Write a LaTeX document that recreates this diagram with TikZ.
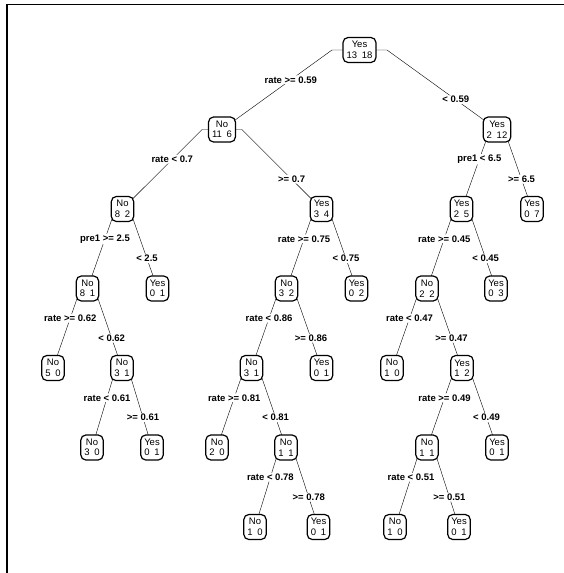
\documentclass[tikz,border=0pt]{standalone}
\usepackage{fontspec}
\setmainfont{Liberation Sans}
\usetikzlibrary{backgrounds}
\newcommand{\yn}[3]{#1\\#2\enspace#3}

\begin{document}
\begin{tikzpicture}[x=1pt,y=-1pt,
    every node/.style={draw,fill=white,rounded corners=5pt,line width=1.2pt,align=center,
      inner xsep=3.5pt,inner ysep=2pt,minimum height=25pt,font=\fontsize{9.5}{10.5}\selectfont},
    lab/.style={draw=none,fill=white,inner sep=1pt,minimum height=0pt,
      font=\fontsize{9.5}{11}\selectfont\bfseries},
    branch/.style={line width=0.8pt}]
    \useasboundingbox (0,0) rectangle (564,573);
    \draw[line width=1.4pt] (7,573) -- (7,4.3) -- (564,4.3);

    % levels at y = 50, 129.5, 209, 288.5, 368, 447.5, 527
    \node at (359.5,50)  (r)   {\yn{Yes}{13}{18}};
    \node at (222,129.5) (n2)  {\yn{No}{11}{6}};
    \node at (497,129.5) (n3)  {\yn{Yes}{2}{12}};
    \node at (122.5,209) (n4)  {\yn{No}{8}{2}};
    \node at (321.5,209) (n5)  {\yn{Yes}{3}{4}};
    \node at (461.5,209) (n6)  {\yn{Yes}{2}{5}};
    \node at (532,209)   (n7)  {\yn{Yes}{0}{7}};
    \node at (87.5,288.5)  (n8)  {\yn{No}{8}{1}};
    \node at (157.5,288.5) (n9)  {\yn{Yes}{0}{1}};
    \node at (286.5,288.5) (n10) {\yn{No}{3}{2}};
    \node at (356.5,288.5) (n11) {\yn{Yes}{0}{2}};
    \node at (427,288.5)   (n12) {\yn{No}{2}{2}};
    \node at (496,288.5)   (n13) {\yn{Yes}{0}{3}};
    \node at (53,368)    (n16) {\yn{No}{5}{0}};
    \node at (122,368)   (n17) {\yn{No}{3}{1}};
    \node at (251.5,368) (n20) {\yn{No}{3}{1}};
    \node at (321.5,368) (n21) {\yn{Yes}{0}{1}};
    \node at (392,368)   (n24) {\yn{No}{1}{0}};
    \node at (462,368)   (n25) {\yn{Yes}{1}{2}};
    \node at (92,447.5)  (n34) {\yn{No}{3}{0}};
    \node at (152,447.5) (n35) {\yn{Yes}{0}{1}};
    \node at (217,447.5) (n40) {\yn{No}{2}{0}};
    \node at (286,447.5) (n41) {\yn{No}{1}{1}};
    \node at (427,447.5) (n50) {\yn{No}{1}{1}};
    \node at (497,447.5) (n51) {\yn{Yes}{0}{1}};
    \node at (255,527)   (n82)  {\yn{No}{1}{0}};
    \node at (318.5,527) (n83)  {\yn{Yes}{0}{1}};
    \node at (395,527)   (n100) {\yn{No}{1}{0}};
    \node at (459,527)   (n101) {\yn{Yes}{0}{1}};

    % branches under the boxes
    \begin{scope}[on background layer,branch]
    \draw (n2.center) -- node[lab,pos=.625] {rate >= 0.59} ([xshift=-27.5pt]r.center) -- ([xshift=27.5pt]r.center) -- node[lab,pos=.625] {< 0.59} (n3.center);
    \draw (n4.center) -- node[lab,pos=.625] {rate < 0.7} ([xshift=-19.9pt]n2.center) -- ([xshift=19.9pt]n2.center) -- node[lab,pos=.625] {>= 0.7} (n5.center);
    \draw (n6.center) -- node[lab,pos=.625] {pre1 < 6.5} ([xshift=-7pt]n3.center) -- ([xshift=7pt]n3.center) -- node[lab,pos=.625] {>= 6.5} (n7.center);
    \draw (n8.center) -- node[lab,pos=.625] {pre1 >= 2.5} ([xshift=-7pt]n4.center) -- ([xshift=7pt]n4.center) -- node[lab,pos=.625] {< 2.5} (n9.center);
    \draw (n10.center) -- node[lab,pos=.625] {rate >= 0.75} ([xshift=-7pt]n5.center) -- ([xshift=7pt]n5.center) -- node[lab,pos=.625] {< 0.75} (n11.center);
    \draw (n12.center) -- node[lab,pos=.625] {rate >= 0.45} ([xshift=-7pt]n6.center) -- ([xshift=7pt]n6.center) -- node[lab,pos=.625] {< 0.45} (n13.center);
    \draw (n16.center) -- node[lab,pos=.625] {rate >= 0.62} ([xshift=-7pt]n8.center) -- ([xshift=7pt]n8.center) -- node[lab,pos=.625] {< 0.62} (n17.center);
    \draw (n20.center) -- node[lab,pos=.625] {rate < 0.86} ([xshift=-7pt]n10.center) -- ([xshift=7pt]n10.center) -- node[lab,pos=.625] {>= 0.86} (n21.center);
    \draw (n24.center) -- node[lab,pos=.625] {rate < 0.47} ([xshift=-7pt]n12.center) -- ([xshift=7pt]n12.center) -- node[lab,pos=.625] {>= 0.47} (n25.center);
    \draw (n34.center) -- node[lab,pos=.625] {rate < 0.61} ([xshift=-6pt]n17.center) -- ([xshift=6pt]n17.center) -- node[lab,pos=.625] {>= 0.61} (n35.center);
    \draw (n40.center) -- node[lab,pos=.625] {rate >= 0.81} ([xshift=-7pt]n20.center) -- ([xshift=7pt]n20.center) -- node[lab,pos=.625] {< 0.81} (n41.center);
    \draw (n50.center) -- node[lab,pos=.625] {rate >= 0.49} ([xshift=-7pt]n25.center) -- ([xshift=7pt]n25.center) -- node[lab,pos=.625] {< 0.49} (n51.center);
    \draw (n82.center) -- node[lab,pos=.625] {rate < 0.78} ([xshift=-6.4pt]n41.center) -- ([xshift=6.4pt]n41.center) -- node[lab,pos=.625] {>= 0.78} (n83.center);
    \draw (n100.center) -- node[lab,pos=.625] {rate < 0.51} ([xshift=-6.4pt]n50.center) -- ([xshift=6.4pt]n50.center) -- node[lab,pos=.625] {>= 0.51} (n101.center);
    \end{scope}
\end{tikzpicture}
\end{document}
